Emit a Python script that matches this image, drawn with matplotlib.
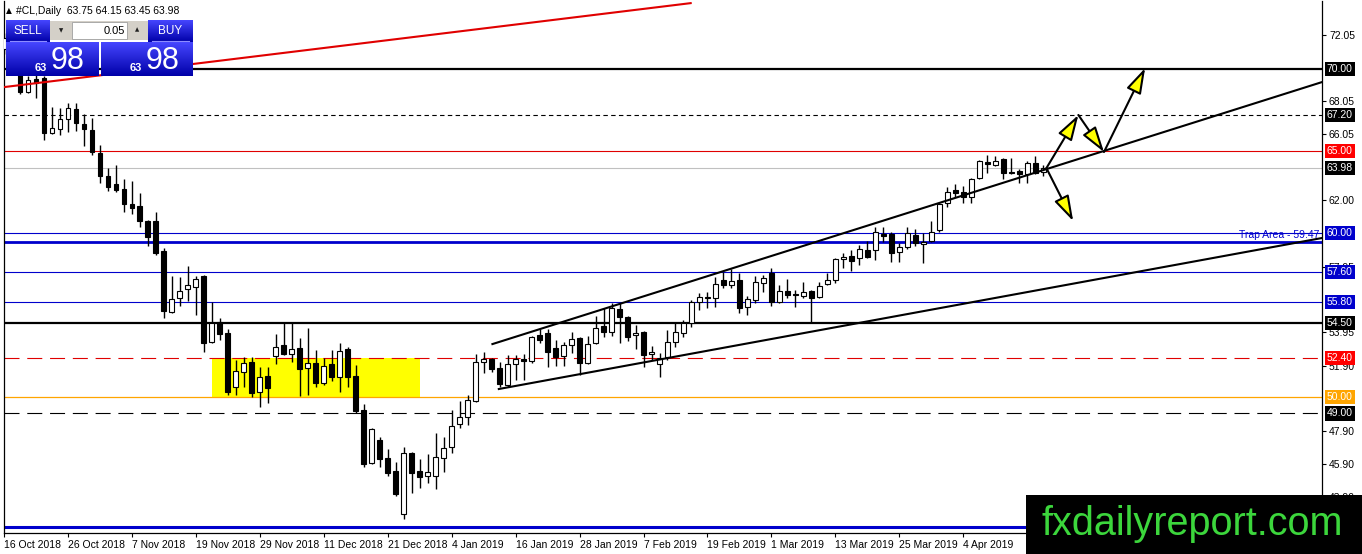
import numpy as np
import matplotlib
matplotlib.use('Agg')
import matplotlib.pyplot as plt
from matplotlib import transforms
from matplotlib.colors import LinearSegmentedColormap
from matplotlib.patches import Rectangle

plt.rcParams['font.family'] = ['Liberation Sans', 'DejaVu Sans']

# daily OHLC of #CL, 16 Oct 2018 .. 18 Apr 2019 (bar index 0..130)
opens = [
    71.20, 71.90, 69.90, 68.60, 69.39, 69.45, 66.10, 66.34, 66.95, 67.56,
    66.65, 66.28, 64.88, 63.48, 62.99, 62.68, 61.77, 61.65, 60.73, 60.73,
    58.90, 55.18, 56.04, 56.59, 56.71, 57.38, 53.35, 54.57, 53.90, 50.61,
    51.52, 52.13, 50.30, 51.28, 52.50, 53.17, 52.62, 52.99, 51.77, 52.07,
    50.85, 52.01, 51.22, 52.93, 51.28, 49.21, 45.98, 47.38, 46.28, 45.49,
    42.87, 46.58, 45.49, 45.18, 45.18, 46.28, 46.95, 48.35, 48.78, 49.76,
    52.13, 52.32, 51.77, 50.73, 52.01, 52.32, 52.19, 53.78, 53.90, 52.99,
    52.50, 53.17, 53.60, 52.07, 53.29, 54.33, 53.96, 55.37, 54.88, 53.78,
    53.96, 52.62, 52.01, 52.44, 53.35, 53.90, 54.51, 55.79, 56.04, 56.04,
    57.13, 56.83, 57.13, 55.49, 55.91, 56.95, 57.56, 55.79, 56.46, 56.28,
    56.16, 56.46, 56.10, 56.89, 57.13, 58.41, 58.60, 58.48, 58.96, 58.96,
    59.94, 59.94, 58.84, 59.15, 59.88, 59.33, 59.51, 60.18, 61.83, 62.62,
    62.50, 62.20, 63.35, 64.33, 64.15, 64.51, 63.72, 63.78, 63.61, 64.27,
    63.75,
]
highs = [
    72.20, 72.00, 70.40, 69.55, 69.70, 69.60, 67.68, 67.62, 67.93, 67.93,
    67.26, 67.01, 65.37, 63.96, 64.15, 63.29, 63.17, 62.44, 60.79, 61.28,
    59.09, 57.38, 57.32, 57.99, 57.38, 57.44, 55.79, 54.82, 54.15, 52.26,
    52.44, 52.44, 51.83, 51.83, 53.84, 54.51, 54.51, 53.60, 54.21, 52.87,
    52.38, 52.87, 53.29, 53.05, 51.95, 49.57, 48.11, 47.56, 46.83, 46.04,
    46.95, 46.65, 46.22, 46.52, 47.81, 47.56, 49.21, 49.76, 50.12, 52.62,
    52.74, 52.38, 52.13, 52.56, 52.56, 52.62, 53.72, 54.15, 54.15, 53.47,
    53.35, 53.96, 53.66, 53.72, 54.94, 55.43, 55.73, 55.73, 54.92, 54.39,
    54.02, 53.11, 52.68, 54.09, 54.57, 54.70, 55.91, 56.34, 56.40, 57.32,
    57.62, 57.80, 57.56, 56.16, 57.38, 57.44, 57.87, 56.83, 57.19, 56.52,
    57.01, 56.52, 57.01, 57.56, 58.48, 58.78, 58.96, 59.27, 59.51, 60.37,
    60.37, 60.06, 59.39, 60.37, 60.24, 60.00, 60.73, 61.83, 62.81, 62.99,
    62.87, 63.35, 64.45, 64.76, 64.70, 64.57, 64.57, 63.91, 64.39, 64.70,
    64.15,
]
lows = [
    70.90, 69.80, 68.48, 68.54, 68.23, 65.67, 66.04, 65.98, 66.16, 66.22,
    65.31, 64.76, 63.05, 62.56, 62.50, 61.28, 61.16, 60.37, 59.21, 58.66,
    54.82, 55.12, 55.55, 55.85, 55.00, 52.74, 53.30, 53.47, 50.12, 50.12,
    50.61, 50.00, 49.39, 49.63, 52.01, 52.56, 52.13, 50.06, 50.12, 50.61,
    50.73, 50.98, 50.30, 50.61, 49.02, 45.73, 45.91, 45.73, 45.18, 43.96,
    42.56, 44.15, 44.45, 44.76, 44.39, 45.43, 46.58, 48.11, 48.29, 49.70,
    51.46, 51.52, 50.61, 50.61, 51.04, 51.04, 52.07, 53.29, 51.83, 51.89,
    51.89, 52.68, 51.34, 52.01, 53.23, 53.66, 53.72, 53.29, 53.41, 52.93,
    51.83, 52.26, 51.22, 52.26, 53.05, 53.66, 54.27, 55.30, 55.43, 55.49,
    56.65, 56.65, 55.12, 55.00, 55.73, 56.40, 55.55, 55.73, 56.04, 55.49,
    56.04, 54.57, 56.04, 56.83, 56.95, 57.87, 57.68, 58.05, 58.50, 58.36,
    59.45, 58.23, 58.23, 59.02, 59.21, 58.17, 59.45, 60.06, 61.59, 62.20,
    61.83, 61.83, 63.29, 63.66, 64.09, 63.29, 63.60, 63.05, 63.05, 63.60,
    63.45,
]
closes = [
    71.90, 70.00, 68.60, 69.33, 69.15, 66.10, 66.40, 66.95, 67.62, 66.71,
    66.34, 64.94, 63.48, 62.81, 62.62, 61.77, 61.53, 60.73, 59.76, 58.78,
    55.24, 55.98, 56.46, 56.83, 57.19, 53.29, 54.51, 53.84, 50.30, 51.59,
    52.07, 50.24, 51.22, 50.55, 53.05, 52.62, 52.93, 51.71, 52.07, 50.85,
    51.89, 51.22, 52.80, 51.22, 49.15, 45.91, 48.05, 46.22, 45.37, 44.09,
    46.58, 45.37, 45.12, 45.43, 46.34, 46.89, 48.23, 48.78, 49.82, 52.13,
    52.32, 51.71, 50.79, 52.01, 52.32, 52.19, 53.66, 53.47, 52.74, 52.44,
    53.17, 53.54, 52.07, 53.23, 54.21, 53.96, 55.43, 54.88, 53.66, 53.90,
    52.56, 52.74, 52.38, 53.35, 53.96, 54.51, 55.79, 56.10, 56.10, 56.89,
    56.83, 57.07, 55.43, 55.98, 57.01, 57.26, 55.79, 56.46, 56.22, 56.22,
    56.40, 56.04, 56.77, 57.13, 58.41, 58.54, 58.29, 59.02, 58.54, 60.06,
    59.82, 58.78, 59.15, 60.00, 59.39, 59.45, 60.06, 61.77, 62.50, 62.44,
    62.20, 63.29, 64.39, 64.21, 64.39, 63.66, 63.66, 63.61, 64.27, 63.66,
    63.98,
]

date_labels = ['16 Oct 2018', '26 Oct 2018', '7 Nov 2018', '19 Nov 2018',
               '29 Nov 2018', '11 Dec 2018', '21 Dec 2018', '4 Jan 2019',
               '16 Jan 2019', '28 Jan 2019', '7 Feb 2019', '19 Feb 2019',
               '1 Mar 2019', '13 Mar 2019', '25 Mar 2019', '4 Apr 2019']
date_bars = list(range(0, 8 * len(date_labels), 8))

price_ticks = [72.05, 68.05, 66.05, 62.00, 57.95, 53.95, 51.90, 47.90, 45.90, 43.90]

# horizontal levels drawn on the chart
level_prices = [70.00, 67.20, 65.00, 63.98, 60.00, 59.47, 57.60, 55.80,
                54.50, 52.40, 50.00, 49.00, 42.07]
level_tags = ['70.00', '67.20', '65.00', '63.98', '60.00', None, '57.60', '55.80',
              '54.50', '52.40', '50.00', '49.00', None]

# yellow zone (bar from/to, price from/to)
zone_bars = [26, 52]
zone_prices = [50.00, 52.40]

# trend lines (bar, price) end points
red_line = ([0.0, 85.9], [68.90, 74.02])
upper_line = ([61.1, 164.9], [53.23, 69.21])
lower_line = ([61.9, 164.9], [50.49, 59.70])

# scenario arrows (tail, tip)
arrows = [((130.4, 63.96), (134.4, 67.20)),
          ((134.4, 67.20), (137.6, 64.94)),
          ((137.6, 64.94), (142.75, 70.06)),
          ((130.4, 63.96), (133.75, 60.73))]

BLUE = '#0000cc'
level_styles = [
    dict(color='black', lw=1.6),
    dict(color='black', lw=0.8, ls=(0, (4, 3))),
    dict(color='#e00000', lw=0.8),
    dict(color='#c0c0c0', lw=0.8),
    dict(color=BLUE, lw=0.8),
    dict(color=BLUE, lw=2.0),
    dict(color=BLUE, lw=0.8),
    dict(color=BLUE, lw=0.8),
    dict(color='black', lw=1.6),
    dict(color='#e00000', lw=0.8, ls=(0, (13.5, 7))),
    dict(color='#ffa500', lw=0.9),
    dict(color='black', lw=0.8, ls=(0, (13.5, 7))),
    dict(color=BLUE, lw=2.2),
]
tag_colors = ['black', 'black', '#ff0000', 'black', BLUE, None, BLUE, BLUE,
              'black', '#ff0000', '#ffa500', 'black', None]

W, H = 1362, 554
fig = plt.figure(figsize=(W / 100, H / 100), dpi=100)
fig.patch.set_facecolor('white')
ax = fig.add_axes([4 / W, 21 / H, 1318 / W, 532 / H])
ax.set_xlim(0.125, 164.875)
ax.set_ylim(41.71, 74.15)

# candles
o, h, l, c = (np.array(v) for v in (opens, highs, lows, closes))
idx = np.arange(len(c))
up = c >= o
body_lo = np.minimum(o, c)
body_h = np.maximum(np.abs(c - o), 0.03)
ax.vlines(idx, l, h, color='black', lw=1.0, zorder=3)
ax.bar(idx[up], body_h[up], bottom=body_lo[up], width=0.6,
       color='white', edgecolor='black', lw=0.8, zorder=4)
ax.bar(idx[~up], body_h[~up], bottom=body_lo[~up], width=0.6,
       color='black', edgecolor='black', lw=0.8, zorder=4)

# zone
ax.add_patch(Rectangle((zone_bars[0], zone_prices[0]), zone_bars[1] - zone_bars[0],
                       zone_prices[1] - zone_prices[0], facecolor='#ffff00',
                       edgecolor='none', zorder=1))

# levels and their price tags
tag_tr = transforms.blended_transform_factory(ax.transAxes, ax.transData)
for price, tag, st, tc in zip(level_prices, level_tags, level_styles, tag_colors):
    ax.axhline(price, zorder=2, **st)
    if tag is not None:
        ax.text(1.0035, price, tag, transform=tag_tr, ha='left', va='center',
                color='white', fontsize=7.5, clip_on=False, zorder=10,
                bbox=dict(boxstyle='square,pad=0.2', fc=tc, ec='none'))
ax.text(164.6, 59.55, 'Trap Area - 59.47', ha='right', va='bottom',
        color=BLUE, fontsize=7.5, zorder=2)

# trend lines
ax.plot(*red_line, color='#e00000', lw=1.5, zorder=6)
ax.plot(*upper_line, color='black', lw=1.5, zorder=6)
ax.plot(*lower_line, color='black', lw=1.5, zorder=6)

for tail, tip in arrows:
    ax.annotate('', xy=tip, xytext=tail, zorder=7,
                arrowprops=dict(arrowstyle='-|>,head_length=1.3,head_width=0.4',
                                mutation_scale=12, fc='#ffff00', ec='black',
                                lw=1.5, shrinkA=0, shrinkB=0))

# axes cosmetics
for side in ('left', 'right', 'bottom'):
    ax.spines[side].set_color('black')
    ax.spines[side].set_linewidth(0.9)
ax.spines['top'].set_visible(False)
ax.yaxis.tick_right()
ax.set_yticks(price_ticks)
ax.set_yticklabels([f'{p:.2f}' for p in price_ticks])
ax.tick_params(axis='y', direction='out', length=3, width=0.8, pad=2, labelsize=7.5)
ax.set_xticks(date_bars)
ax.set_xticklabels(date_labels, ha='left')
ax.tick_params(axis='x', direction='out', length=3, width=0.8, pad=2, labelsize=7.5)

# title
fig.text(6 / W, 1 - 11 / H, '\u25b2', fontsize=5.5, va='center', color='black',
         family='DejaVu Sans')
fig.text(16 / W, 1 - 11 / H, '#CL,Daily  63.75 64.15 63.45 63.98',
         fontsize=7.5, va='center', color='black')

# trading panel and watermark in pixel space
ov = fig.add_axes([0, 0, 1, 1])
ov.set_zorder(5)
ov.axis('off')
grad = np.linspace(0, 1, 64).reshape(-1, 1)
cm = LinearSegmentedColormap.from_list('panel', ['#4646ff', '#0000a8'])


def blue_box(x0, y0, x1, y1):
    ov.imshow(grad, extent=(x0, x1, y1, y0), cmap=cm, aspect='auto',
              origin='upper', zorder=1)


blue_box(6, 20, 50, 42)
blue_box(148, 20, 193, 42)
blue_box(6, 42, 99, 76)
blue_box(101, 42, 193, 76)
ov.plot([10, 46], [41, 41], color='#8c8cff', lw=0.8, zorder=2)
ov.plot([152, 189], [41, 41], color='#8c8cff', lw=0.8, zorder=2)
ov.add_patch(Rectangle((50, 21), 98, 19, fc='#d4d0c8', ec='none', zorder=1))
ov.add_patch(Rectangle((72, 22), 55, 17, fc='white', ec='#a0a0a0', lw=0.6, zorder=2))
ov.text(61, 31, '\u25bc', fontsize=4, ha='center', va='center', color='#202020',
        family='DejaVu Sans', zorder=3)
ov.text(137, 30, '\u25b2', fontsize=4, ha='center', va='center', color='#202020',
        family='DejaVu Sans', zorder=3)
ov.text(125, 31, '0.05', fontsize=8, ha='right', va='center', color='black', zorder=3)
ov.text(28, 31, 'SELL', fontsize=8.5, ha='center', va='center', color='white', zorder=3)
ov.text(170, 31, 'BUY', fontsize=8.5, ha='center', va='center', color='white', zorder=3)
for cx in (47, 142):
    ov.text(cx, 71, '63', fontsize=8, fontweight='bold', ha='right', va='baseline',
            color='white', zorder=3)
    ov.text(cx + 4, 69, '98', fontsize=22, ha='left', va='baseline',
            color='white', zorder=3)

ov.add_patch(Rectangle((1026, 495), 336, 59, fc='black', ec='none', zorder=1))
ov.text(1042, 535, 'fxdailyreport.com', fontsize=28.5, ha='left', va='baseline',
        color='#3cd63c', zorder=3)

ov.set_xlim(0, W)
ov.set_ylim(H, 0)

fig.savefig('out.png', dpi=100)
